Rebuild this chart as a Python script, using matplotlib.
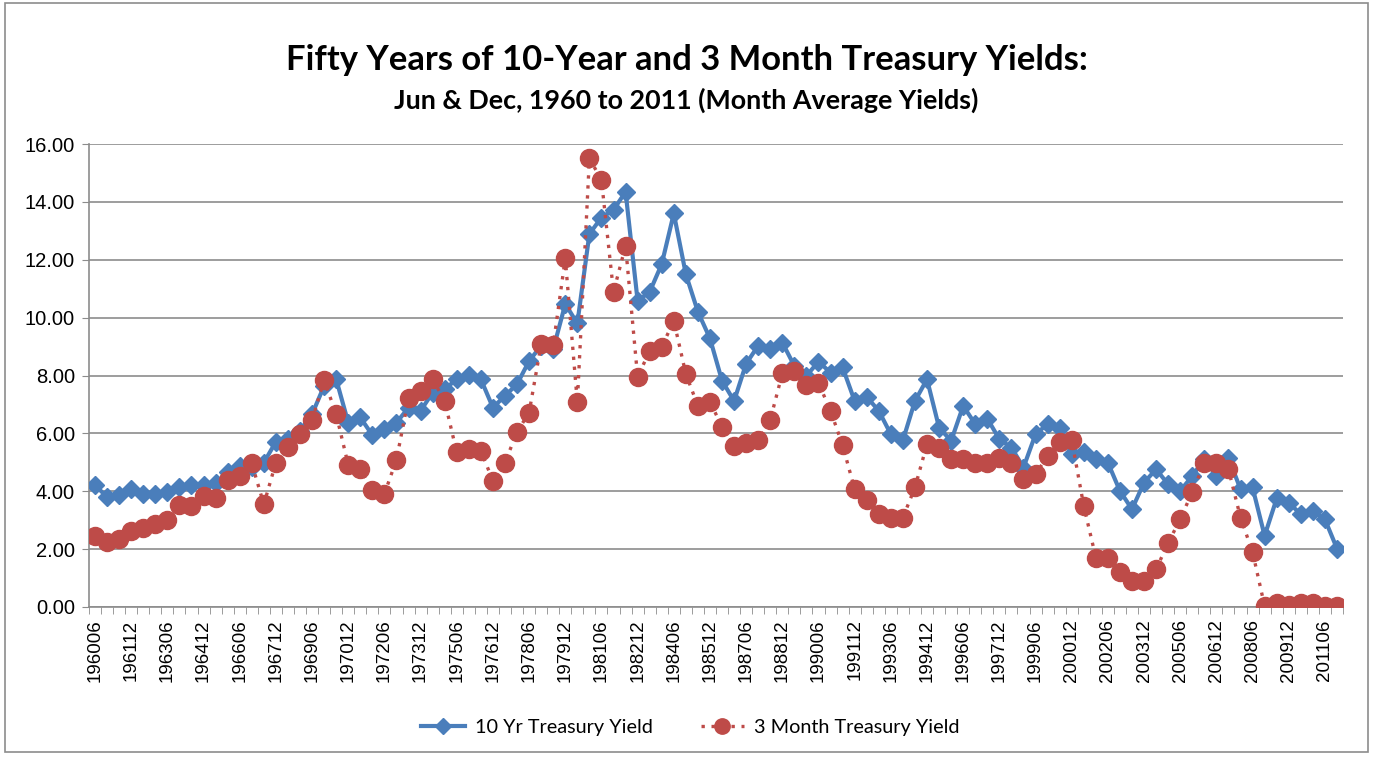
import numpy as np
import matplotlib
matplotlib.use('Agg')
import matplotlib.pyplot as plt
from matplotlib.patches import Rectangle

# Categories: June and December, 1960 to 2011
periods = [f"{y}{m}" for y in range(1960, 2012) for m in ("06", "12")]

# 10 year treasury yield (month average)
ten_year = [4.21, 3.80, 3.87, 4.07, 3.90, 3.90, 3.99, 4.15, 4.21, 4.21,
            4.27, 4.65, 4.88, 4.85, 4.99, 5.71, 5.82, 6.09, 6.66, 7.64,
            7.87, 6.37, 6.55, 5.94, 6.14, 6.37, 6.89, 6.78, 7.41, 7.53,
            7.87, 8.01, 7.87, 6.89, 7.30, 7.70, 8.50, 9.03, 8.91, 10.47,
            9.80, 12.89, 13.46, 13.72, 14.35, 10.58, 10.89, 11.85, 13.60, 11.50,
            10.20, 9.28, 7.82, 7.12, 8.41, 9.03, 8.91, 9.14, 8.33, 7.99,
            8.48, 8.10, 8.28, 7.12, 7.26, 6.78, 5.97, 5.76, 7.12, 7.87,
            6.20, 5.74, 6.95, 6.32, 6.51, 5.80, 5.51, 4.82, 5.97, 6.32,
            6.20, 5.28, 5.34, 5.11, 4.99, 4.01, 3.38, 4.30, 4.76, 4.24,
            4.01, 4.53, 5.11, 4.53, 5.16, 4.07, 4.13, 2.46, 3.75, 3.61,
            3.20, 3.32, 3.03, 2.02]

# 3 month treasury yield (month average)
three_month = [2.46, 2.26, 2.34, 2.63, 2.74, 2.86, 3.00, 3.52, 3.49, 3.84,
               3.78, 4.38, 4.53, 4.96, 3.55, 4.99, 5.53, 5.97, 6.46, 7.84,
               6.66, 4.91, 4.76, 4.03, 3.91, 5.09, 7.22, 7.45, 7.87, 7.12,
               5.34, 5.45, 5.39, 4.36, 4.99, 6.05, 6.72, 9.08, 9.05, 12.05,
               7.07, 15.50, 14.76, 10.89, 12.48, 7.95, 8.85, 8.99, 9.89, 8.05,
               6.95, 7.10, 6.22, 5.57, 5.68, 5.76, 6.47, 8.07, 8.14, 7.67,
               7.74, 6.78, 5.59, 4.07, 3.69, 3.23, 3.09, 3.09, 4.13, 5.63,
               5.48, 5.13, 5.10, 4.96, 4.96, 5.16, 4.99, 4.41, 4.59, 5.22,
               5.71, 5.78, 3.49, 1.71, 1.71, 1.21, 0.90, 0.90, 1.30, 2.22,
               3.03, 3.98, 4.96, 4.99, 4.76, 3.09, 1.90, 0.03, 0.15, 0.07,
               0.15, 0.15, 0.04, 0.04]

blue = '#4A7EBB'
red = '#BE4B48'
grid_col = '#8C8C8C'

fig = plt.figure(figsize=(13.73, 7.57), dpi=100)
fig.patches.append(Rectangle((0.004, 0.006), 0.992, 0.99, transform=fig.transFigure,
                             fill=False, edgecolor='#8C8C8C', linewidth=1.2))

ax = fig.add_axes([89 / 1373, 1 - 607 / 757, (1343 - 89) / 1373, (607 - 144) / 757])
x = np.arange(len(periods))

ax.plot(x, ten_year, color=blue, linewidth=3, marker='D', markersize=9,
        markerfacecolor=blue, markeredgecolor=blue, label='10 Yr Treasury Yield', zorder=3)
ax.plot(x, three_month, color=red, linewidth=2.4, linestyle=(0, (1, 2)), marker='o',
        markersize=13, markerfacecolor=red, markeredgecolor=red,
        label='3 Month Treasury Yield', zorder=4)

ax.set_xlim(-0.5, len(periods) - 0.5)
ax.set_ylim(0, 16)
ax.set_yticks(np.arange(0, 16.01, 2))
ax.set_yticklabels([f"{v:.2f}" for v in np.arange(0, 16.01, 2)])
ax.yaxis.grid(True, color=grid_col, linewidth=1.2)
ax.set_axisbelow(True)

ax.set_xticks(x[::3])
ax.set_xticklabels(periods[::3], rotation=90)
ax.set_xticks(np.arange(-0.5, len(periods), 1), minor=True)
ax.tick_params(axis='x', which='major', length=0, pad=9)
ax.tick_params(axis='x', which='minor', length=5, color=grid_col, direction='out')
ax.tick_params(axis='y', length=5, color=grid_col, pad=5)
for lab in ax.get_xticklabels():
    lab.set_fontfamily('Liberation Sans')
    lab.set_fontsize(13.5)
for lab in ax.get_yticklabels():
    lab.set_fontfamily('Liberation Sans')
    lab.set_fontsize(14.5)

for s in ['top', 'right']:
    ax.spines[s].set_visible(False)
for s in ['left', 'bottom']:
    ax.spines[s].set_color(grid_col)
    ax.spines[s].set_linewidth(1.2)

fig.text(0.5, 1 - 60 / 757, 'Fifty Years of 10-Year and 3 Month Treasury Yields:',
         ha='center', va='center', fontsize=24.9, fontweight='bold', family='Lato')
fig.text(0.5, 1 - 100 / 757, 'Jun & Dec, 1960 to 2011 (Month Average Yields)',
         ha='center', va='center', fontsize=19.4, fontweight='bold', family='Lato')

leg = fig.legend(loc='center', bbox_to_anchor=(0.503, 1 - 727 / 757), ncol=2, frameon=False,
                 prop={'family': 'Lato', 'size': 14.3}, handlelength=2.2, columnspacing=2.4,
                 handletextpad=0.5, markerscale=0.85)

fig.savefig('out.png', dpi=100)
